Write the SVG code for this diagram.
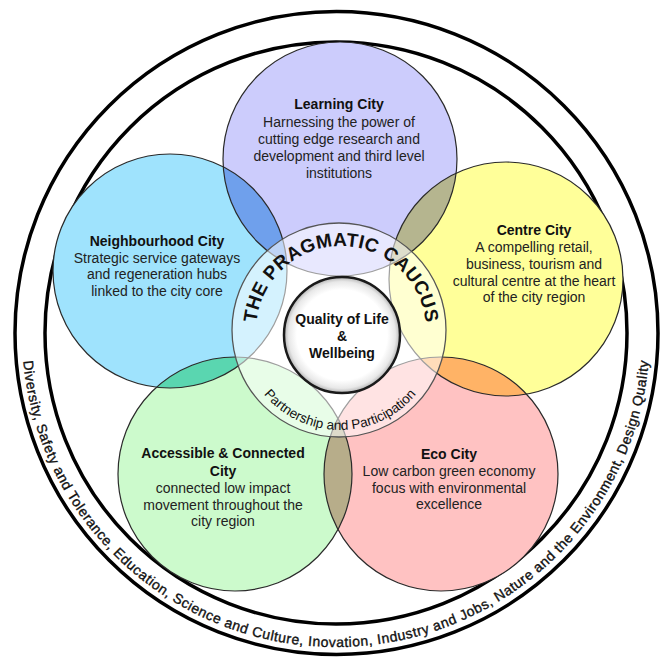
<svg xmlns="http://www.w3.org/2000/svg" width="664" height="659" viewBox="0 0 664 659">
<style>
.ring{fill:none;stroke:#000;stroke-width:3.5}
.c{stroke:none}
.co{fill:none;stroke:#2a2a2a;stroke-width:1.2}
.t{font-family:"Liberation Sans",Arial,sans-serif;font-size:14px;fill:#222;text-anchor:middle}
.b{font-weight:bold;fill:#111}
.arc{font-family:"Liberation Sans",Arial,sans-serif;fill:#111}
</style>
<defs>
<clipPath id="cpP"><circle cx="340" cy="159" r="117"/></clipPath>
<clipPath id="cpY"><circle cx="506" cy="279" r="117"/></clipPath>
<clipPath id="cpE"><circle cx="441" cy="474" r="117"/></clipPath>
<clipPath id="cpG"><circle cx="235" cy="474" r="117"/></clipPath>
<radialGradient id="qg" cx="0.5" cy="0.5" r="0.5">
<stop offset="0" stop-color="#ffffff"/>
<stop offset="0.78" stop-color="#ffffff"/>
<stop offset="0.92" stop-color="#e8e8e8"/>
<stop offset="1" stop-color="#b4b4b4"/>
</radialGradient>
<path id="outerArc" d="M 22,333 A 314 314 0 0 0 650,333"/>
<path id="topArc" d="M 256,331 A 85 85 0 0 1 426,331"/>
<path id="botArc" d="M 241,331 A 99 99 0 0 0 439,331"/>
</defs>
<rect width="664" height="659" fill="#fff"/>
<g id="outer-ring">
<circle class="ring" cx="336.5" cy="333" r="321.5"/>
<circle class="ring" cx="336" cy="333" r="291"/>
<text class="arc" font-size="14" stroke="#111" stroke-width="0.35"><textPath href="#outerArc" startOffset="50%" text-anchor="middle" textLength="930" lengthAdjust="spacing">Diversity, Safety and Tolerance, Education, Science and Culture, Inovation, Industry and Jobs, Nature and the Environment, Design Quality</textPath></text>
</g>
<g id="circle-fills">
<circle class="c" cx="340" cy="159" r="117" fill="#ccccfc"/>
<circle class="c" cx="170" cy="271" r="117" fill="#9fe3fd"/>
<circle class="c" cx="506" cy="279" r="117" fill="#ffff99"/>
<circle class="c" cx="441" cy="474" r="117" fill="#ffc2c2"/>
<circle class="c" cx="235" cy="474" r="117" fill="#ccfacc"/>
<circle class="c" cx="170" cy="271" r="117" fill="#6fa0ec" clip-path="url(#cpP)"/>
<circle class="c" cx="506" cy="279" r="117" fill="#b5b58f" clip-path="url(#cpP)"/>
<circle class="c" cx="441" cy="474" r="117" fill="#ffb366" clip-path="url(#cpY)"/>
<circle class="c" cx="235" cy="474" r="117" fill="#b7ad8a" clip-path="url(#cpE)"/>
<circle class="c" cx="170" cy="271" r="117" fill="#5ad6b0" clip-path="url(#cpG)"/>
</g>
<g id="learning-city">
<circle class="co" cx="340" cy="159" r="117"/>
<text class="t b" x="339" y="109">Learning City</text>
<text class="t" x="339" y="127">Harnessing the power of</text>
<text class="t" x="339" y="144">cutting edge research and</text>
<text class="t" x="339" y="161">development and third level</text>
<text class="t" x="339" y="178">institutions</text>
</g>
<g id="neighbourhood-city">
<circle class="co" cx="170" cy="271" r="117"/>
<text class="t b" x="157" y="246">Neighbourhood City</text>
<text class="t" x="157" y="263">Strategic service gateways</text>
<text class="t" x="157" y="279">and regeneration hubs</text>
<text class="t" x="157" y="296">linked to the city core</text>
</g>
<g id="centre-city">
<circle class="co" cx="506" cy="279" r="117"/>
<text class="t b" x="534" y="235">Centre City</text>
<text class="t" x="534" y="252">A compelling retail,</text>
<text class="t" x="534" y="269">business, tourism and</text>
<text class="t" x="534" y="286">cultural centre at the heart</text>
<text class="t" x="534" y="302">of the city region</text>
</g>
<g id="eco-city">
<circle class="co" cx="441" cy="474" r="117"/>
<text class="t b" x="449" y="459">Eco City</text>
<text class="t" x="449" y="476">Low carbon green economy</text>
<text class="t" x="449" y="493">focus with environmental</text>
<text class="t" x="449" y="509">excellence</text>
</g>
<g id="accessible-city">
<circle class="co" cx="235" cy="474" r="117"/>
<text class="t b" x="223" y="458">Accessible &amp; Connected</text>
<text class="t b" x="223" y="476">City</text>
<text class="t" x="223" y="493">connected low impact</text>
<text class="t" x="223" y="510">movement throughout the</text>
<text class="t" x="223" y="526">city region</text>
</g>
<g id="pragmatic-caucus">
<circle cx="339" cy="330" r="107" fill="#fff" fill-opacity="0.55" stroke="#555" stroke-width="1.3"/>
<text class="arc" font-size="19" font-weight="bold"><textPath href="#topArc" startOffset="50%" text-anchor="middle" textLength="250" lengthAdjust="spacing">THE PRAGMATIC CAUCUS</textPath></text>
<text class="arc" font-size="13.5" fill="#222"><textPath href="#botArc" startOffset="50%" text-anchor="middle">Partnership and Participation</textPath></text>
</g>
<g id="quality-of-life">
<circle cx="342" cy="335" r="58" fill="url(#qg)" stroke="#1a1a1a" stroke-width="2.5"/>
<text class="t b" x="342" y="324">Quality of Life</text>
<text class="t b" x="342" y="341">&amp;</text>
<text class="t b" x="342" y="358">Wellbeing</text>
</g>
</svg>
